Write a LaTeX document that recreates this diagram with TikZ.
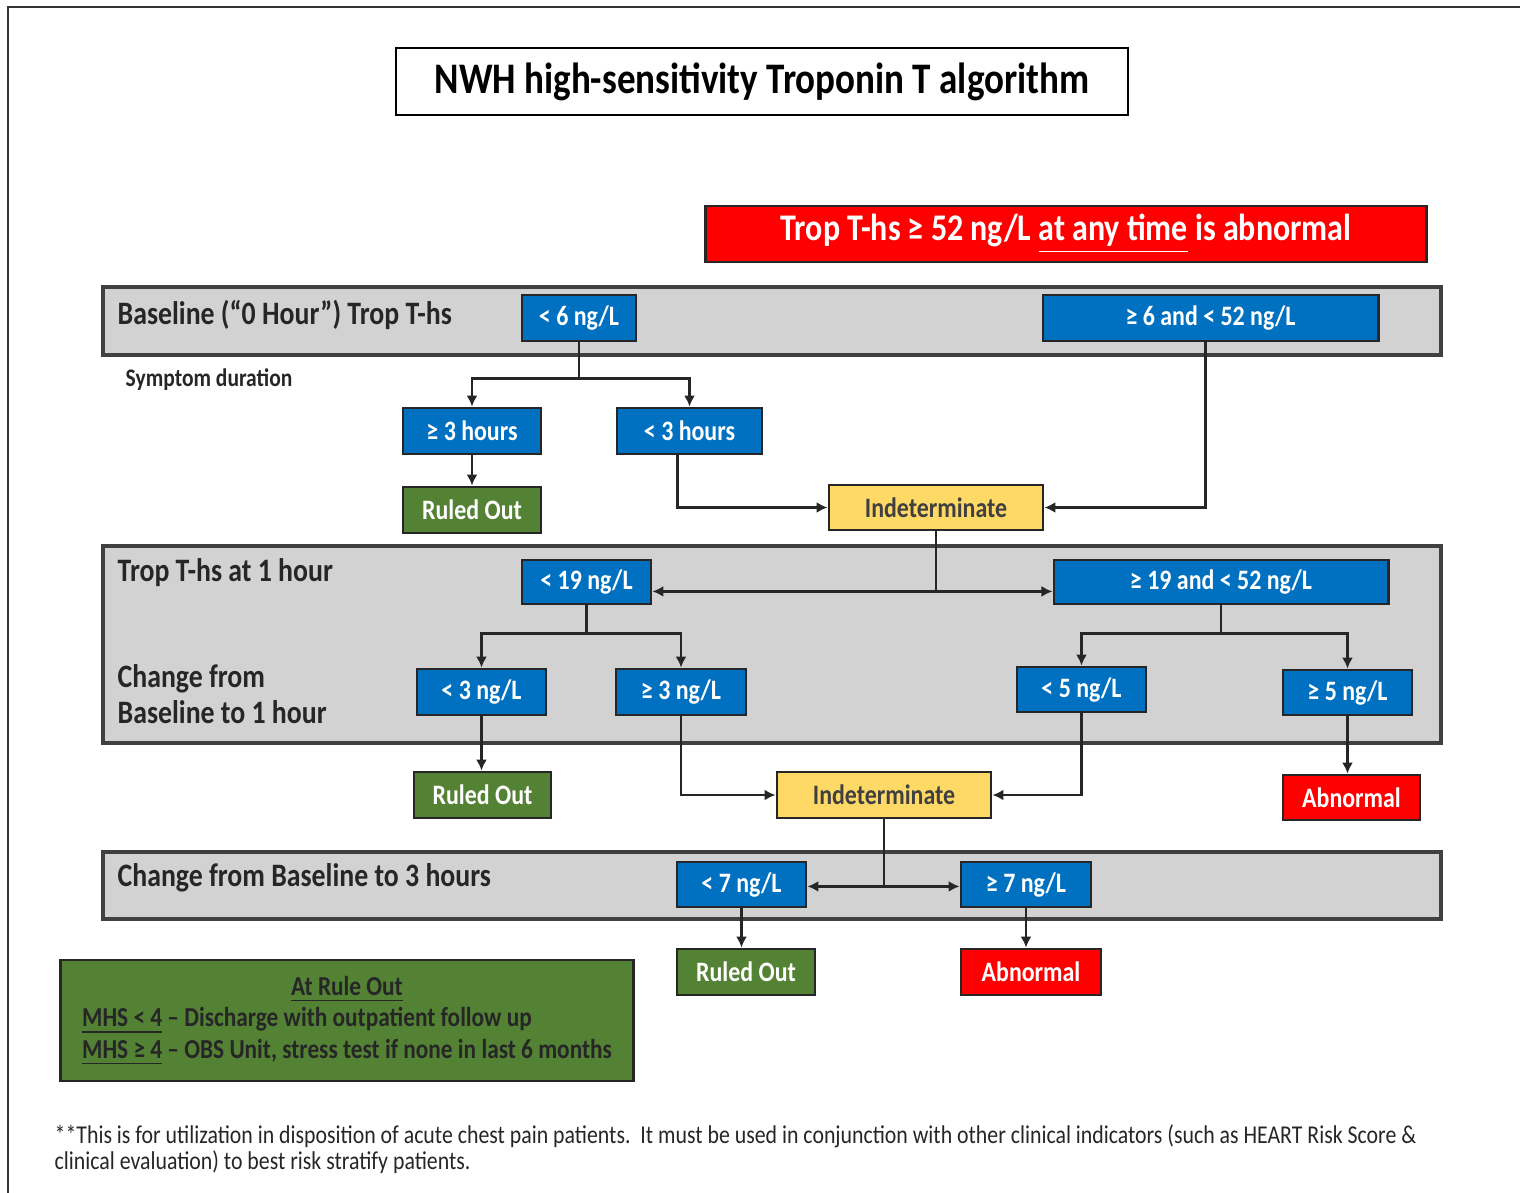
\documentclass[tikz,border=0pt]{standalone}
\usepackage{fontspec}
\setmainfont{Carlito}[FakeStretch=0.85]
\usetikzlibrary{arrows.meta,positioning}

\definecolor{nwhblue}{RGB}{0,112,192}
\definecolor{nwhgreen}{RGB}{84,130,53}
\definecolor{nwhred}{RGB}{255,0,0}
\definecolor{nwhyellow}{RGB}{255,217,102}
\definecolor{nwhgray}{RGB}{210,210,210}
\definecolor{nwhline}{RGB}{38,38,38}

\tikzset{
  conn/.style={draw=nwhline, line width=0.75pt},
  flow/.style={conn, -{Latex[length=1.1mm,width=1.1mm]}},
  both/.style={conn, {Latex[length=1.1mm,width=1.1mm]}-{Latex[length=1.1mm,width=1.1mm]}},
  box/.style={draw=nwhline, line width=0.8pt, inner sep=0pt, minimum height=0.46cm,
    font=\fontsize{8}{9}\selectfont\bfseries},
  bluebox/.style={box, fill=nwhblue, text=white},
  okbox/.style={box, fill=nwhgreen, text=white},
  badbox/.style={box, fill=nwhred, text=white},
  midbox/.style={box, fill=nwhyellow, text=black!75},
  band/.style={draw=black!75, line width=1pt, fill=nwhgray},
  bandlabel/.style={anchor=west, inner sep=0pt, text=black!85,
    font=\fontsize{9.3}{10.2}\selectfont\bfseries},
}

\begin{document}
\begin{tikzpicture}[x=0.01cm,y=-0.01cm]
\useasboundingbox (0,0) rectangle (1520,1193);
\draw[line width=0.7pt, black!80] (8,1193) -- (8,7) -- (1520,7);

% title and banner
\node[draw=black, line width=0.7pt, minimum width=7.32cm, minimum height=0.67cm,
  font=\fontsize{12.4}{13}\selectfont\bfseries] (title) at (762,81.5)
  {NWH high-sensitivity Troponin T algorithm};
\node[badbox, minimum width=7.2cm, minimum height=0.56cm,
  font=\fontsize{10.7}{11}\selectfont\bfseries] (banner) at (1066,234)
  {Trop T-hs ≥ 52 ng/L \underline{at any time} is abnormal};

% bands
\draw[band] (103,287) rectangle (1441,355);
\draw[band] (103,546) rectangle (1441,743);
\draw[band] (103,852) rectangle (1441,919);
\node[bandlabel] (lbase) at (117,315) {Baseline (“0 Hour”) Trop T-hs};
\node[bandlabel, font=\fontsize{7.2}{8}\selectfont\bfseries] (lsymp) at (125,380) {Symptom duration};
\node[bandlabel] (lone) at (117,573) {Trop T-hs at 1 hour};
\node[bandlabel, align=left] (lchg) at (117,694) {Change from\\Baseline to 1 hour};
\node[bandlabel] (lthree) at (117,878) {Change from Baseline to 3 hours};

% baseline
\node[bluebox, minimum width=1.14cm] (b6) at (579,318) {< 6 ng/L};
\node[bluebox, minimum width=3.35cm] (b652) at (1210.5,318) {≥ 6 and < 52 ng/L};
\node[bluebox, minimum width=1.38cm] (h3ge) at (472,431) {≥ 3 hours};
\node[bluebox, minimum width=1.45cm] (h3lt) at (689.5,431) {< 3 hours};
\node[okbox, minimum width=1.38cm] (ro1) at (472,510) {Ruled Out};
\node[midbox, minimum width=2.14cm, minimum height=0.45cm] (ind1) at (936,507.5) {Indeterminate};

% 1 hour
\node[bluebox, minimum width=1.29cm, minimum height=0.44cm] (o19) at (586.5,582) {< 19 ng/L};
\node[bluebox, minimum width=3.34cm, minimum height=0.44cm] (o1952) at (1221,582) {≥ 19 and < 52 ng/L};
\node[bluebox, minimum width=1.29cm] (d3lt) at (481.5,692) {< 3 ng/L};
\node[bluebox, minimum width=1.30cm] (d3ge) at (681,692) {≥ 3 ng/L};
\node[bluebox, minimum width=1.29cm, minimum height=0.45cm] (d5lt) at (1081.5,689.5) {< 5 ng/L};
\node[bluebox, minimum width=1.29cm, minimum height=0.45cm] (d5ge) at (1347.5,692.5) {≥ 5 ng/L};
\node[okbox, minimum width=1.37cm] (ro2) at (482.5,795) {Ruled Out};
\node[midbox, minimum width=2.14cm] (ind2) at (884,795) {Indeterminate};
\node[badbox, minimum width=1.37cm, minimum height=0.45cm] (ab1) at (1351.5,797.5) {Abnormal};

% 3 hours
\node[bluebox, minimum width=1.29cm, minimum height=0.45cm] (n7lt) at (741.5,884.5) {< 7 ng/L};
\node[bluebox, minimum width=1.30cm, minimum height=0.45cm] (n7ge) at (1026,884.5) {≥ 7 ng/L};
\node[okbox, minimum width=1.38cm] (ro3) at (746,972) {Ruled Out};
\node[badbox, minimum width=1.40cm] (ab2) at (1031,972) {Abnormal};

% rule out note
\node[okbox, minimum width=5.73cm, minimum height=1.21cm, text=black!85,
  font=\fontsize{7.8}{9}\selectfont\bfseries] (note) at (347,1020.5)
  {\begin{tabular}{@{}l@{}}
   \multicolumn{1}{c}{\underline{At Rule Out}}\\
   \underline{MHS < 4} – Discharge with outpatient follow up\\
   \underline{MHS ≥ 4} – OBS Unit, stress test if none in last 6 months
   \end{tabular}};

\node[anchor=west, inner sep=0pt, align=left, text=black!85,
  font=\fontsize{7.3}{7.4}\selectfont] (foot) at (54,1149)
  {**This is for utilization in disposition of acute chest pain patients.\ \ It must be used in conjunction with other clinical indicators (such as HEART Risk Score \&\\
   clinical evaluation) to best risk stratify patients.};

% connectors
\draw[conn] (b6.south) -- ++(0,36) coordinate (sp1);
\draw[flow] (sp1) -| (h3ge.north);
\draw[flow] (sp1) -| (h3lt.north);
\draw[flow] (h3ge) -- (ro1);
\draw[flow] ([xshift=-0.12cm]h3lt.south) |- (ind1.west);
\draw[flow] ([xshift=-0.05cm]b652.south) |- (ind1.east);

\draw[conn] (ind1.south) -- ++(0,60) coordinate (sp2);
\draw[flow] (sp2) -- (sp2 -| o19.east);
\draw[flow] (sp2) -- (sp2 -| o1952.west);

\draw[conn] (o19.south) -- ++(0,28) coordinate (sp3);
\draw[flow] (sp3) -| (d3lt.north);
\draw[flow] (sp3) -| (d3ge.north);
\draw[conn] (o1952.south) -- ++(0,28) coordinate (sp4);
\draw[flow] (sp4) -| (d5lt.north);
\draw[flow] (sp4) -| (d5ge.north);

\draw[flow] (d3lt.south) -- (d3lt.south |- ro2.north);
\draw[flow] (d3ge.south) |- (ind2.west);
\draw[flow] (d5lt.south) |- (ind2.east);
\draw[flow] (d5ge.south) -- (d5ge.south |- ab1.north);

\draw[conn] (ind2.south) -- ++(0,67) coordinate (sp5);
\draw[flow] (sp5) -- (sp5 -| n7lt.east);
\draw[flow] (sp5) -- (sp5 -| n7ge.west);
\draw[flow] (n7lt.south) -- (n7lt.south |- ro3.north);
\draw[flow] (n7ge.south) -- (n7ge.south |- ab2.north);
\end{tikzpicture}
\end{document}
